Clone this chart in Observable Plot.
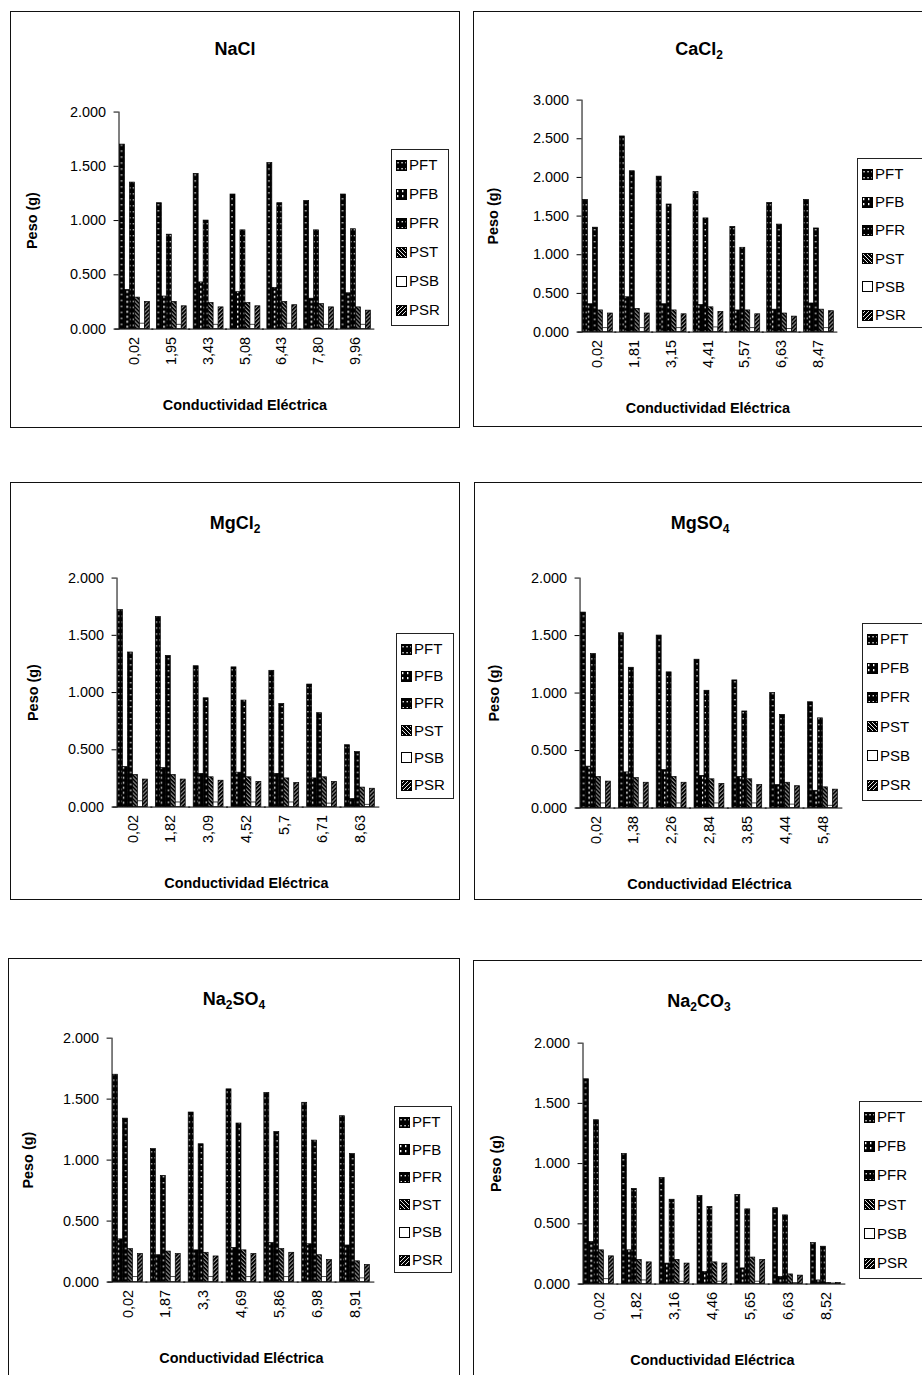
<!DOCTYPE html>
<html><head><meta charset="utf-8">
<script src="https://cdn.jsdelivr.net/npm/d3@7"></script>
<script src="https://cdn.jsdelivr.net/npm/@observablehq/plot@0.6"></script>
<style>
body{margin:0;background:#fff;}
#page{position:relative;width:922px;height:1375px;overflow:hidden;font-family:"Liberation Sans",Arial,sans-serif;color:#000;}
.panel{position:absolute;border:1.4px solid #111;box-sizing:border-box;background:#fff;}
.panel svg.plot{position:absolute;left:-1px;top:-1px;overflow:visible;}
.title{position:absolute;left:0;width:100%;text-align:center;font-weight:bold;font-size:18px;line-height:20px;}
.title sub{font-size:12px;vertical-align:-4px;line-height:0;}
.legend{position:absolute;border:1px solid #222;box-sizing:border-box;font-size:15px;background:#fff;}
.legend .item{position:absolute;left:4px;display:flex;align-items:center;height:18px;line-height:18px;}
.legend .item svg{margin-right:2px;}
[aria-label="y-axis label"], [aria-label="fx-axis label"]{font-weight:bold;}
</style>
</head><body>
<svg width="0" height="0" style="position:absolute">
<defs>
<pattern id="p-pft" width="4" height="6" patternUnits="userSpaceOnUse"><rect width="4" height="6" fill="#000"/><rect x="1.4" y="2" width="1.3" height="1.4" fill="#fff"/></pattern>
<pattern id="p-pfb" width="5" height="5" patternUnits="userSpaceOnUse"><rect width="5" height="5" fill="#000"/><rect x="1" y="1" width="1.4" height="2.2" fill="#fff"/></pattern>
<pattern id="p-pfr" width="4" height="6" patternUnits="userSpaceOnUse"><rect width="4" height="6" fill="#000"/><rect x="1.6" y="3" width="1.3" height="1.4" fill="#fff"/></pattern>
<pattern id="p-pst" width="4" height="4" patternUnits="userSpaceOnUse"><rect width="4" height="4" fill="#000"/><path d="M0,0L4,4" stroke="#fff" stroke-width="0.9"/></pattern>
<pattern id="p-psb" width="4" height="4" patternUnits="userSpaceOnUse"><rect width="4" height="4" fill="#fff"/></pattern>
<pattern id="p-psr" width="4" height="4" patternUnits="userSpaceOnUse"><rect width="4" height="4" fill="#000"/><path d="M0,4L4,0" stroke="#fff" stroke-width="0.9"/></pattern>
</defs>
</svg>
<div id="page"></div>
<script>
// ---- data ----
const series = ["PFT", "PFB", "PFR", "PST", "PSB", "PSR"];
const yTicks2 = [0, 0.5, 1, 1.5, 2];
const yTicks3 = [0, 0.5, 1, 1.5, 2, 2.5, 3];
const yLabel = "Peso (g)";
const xLabel = "Conductividad Eléctrica";

const naclCE = ["0,02", "1,95", "3,43", "5,08", "6,43", "7,80", "9,96"];
const naclPeso = [
  [1.70, 1.16, 1.43, 1.24, 1.53, 1.18, 1.24],
  [0.36, 0.30, 0.43, 0.34, 0.38, 0.28, 0.33],
  [1.35, 0.87, 1.00, 0.91, 1.16, 0.91, 0.92],
  [0.29, 0.25, 0.24, 0.24, 0.25, 0.23, 0.20],
  [0.05, 0.04, 0.04, 0.04, 0.05, 0.04, 0.04],
  [0.25, 0.21, 0.20, 0.21, 0.22, 0.20, 0.17]
];
const cacl2CE = ["0,02", "1,81", "3,15", "4,41", "5,57", "6,63", "8,47"];
const cacl2Peso = [
  [1.71, 2.53, 2.01, 1.81, 1.36, 1.67, 1.71],
  [0.36, 0.45, 0.36, 0.35, 0.28, 0.29, 0.37],
  [1.35, 2.08, 1.65, 1.47, 1.09, 1.39, 1.34],
  [0.28, 0.30, 0.28, 0.32, 0.28, 0.24, 0.29],
  [0.05, 0.05, 0.05, 0.06, 0.05, 0.04, 0.05],
  [0.24, 0.24, 0.23, 0.26, 0.23, 0.20, 0.27]
];
const mgcl2CE = ["0,02", "1,82", "3,09", "4,52", "5,7", "6,71", "8,63"];
const mgcl2Peso = [
  [1.72, 1.66, 1.23, 1.22, 1.19, 1.07, 0.54],
  [0.35, 0.34, 0.29, 0.30, 0.29, 0.25, 0.07],
  [1.35, 1.32, 0.95, 0.93, 0.90, 0.82, 0.48],
  [0.28, 0.28, 0.26, 0.26, 0.25, 0.26, 0.17],
  [0.05, 0.04, 0.04, 0.04, 0.04, 0.03, 0.02],
  [0.24, 0.24, 0.23, 0.22, 0.21, 0.22, 0.16]
];
const mgso4CE = ["0,02", "1,38", "2,26", "2,84", "3,85", "4,44", "5,48"];
const mgso4Peso = [
  [1.70, 1.52, 1.50, 1.29, 1.11, 1.00, 0.92],
  [0.36, 0.31, 0.33, 0.28, 0.27, 0.20, 0.15],
  [1.34, 1.22, 1.18, 1.02, 0.84, 0.81, 0.78],
  [0.27, 0.26, 0.27, 0.25, 0.25, 0.22, 0.18],
  [0.04, 0.04, 0.04, 0.04, 0.04, 0.03, 0.02],
  [0.23, 0.22, 0.22, 0.21, 0.20, 0.19, 0.16]
];
const na2so4CE = ["0,02", "1,87", "3,3", "4,69", "5,86", "6,98", "8,91"];
const na2so4Peso = [
  [1.70, 1.09, 1.39, 1.58, 1.55, 1.47, 1.36],
  [0.35, 0.22, 0.26, 0.28, 0.32, 0.31, 0.30],
  [1.34, 0.87, 1.13, 1.30, 1.23, 1.16, 1.05],
  [0.27, 0.25, 0.24, 0.26, 0.27, 0.22, 0.17],
  [0.04, 0.04, 0.04, 0.04, 0.04, 0.04, 0.03],
  [0.23, 0.23, 0.21, 0.23, 0.24, 0.18, 0.14]
];
const na2co3CE = ["0,02", "1,82", "3,16", "4,46", "5,65", "6,63", "8,52"];
const na2co3Peso = [
  [1.70, 1.08, 0.88, 0.73, 0.74, 0.63, 0.34],
  [0.35, 0.28, 0.17, 0.10, 0.13, 0.06, 0.03],
  [1.36, 0.79, 0.70, 0.64, 0.62, 0.57, 0.31],
  [0.28, 0.20, 0.20, 0.18, 0.22, 0.08, 0.01],
  [0.04, 0.03, 0.02, 0.02, 0.02, 0.01, 0.005],
  [0.23, 0.18, 0.17, 0.17, 0.20, 0.07, 0.01]
];

// ---- layout (styling only) ----
const panels = [
  {title: "NaCl", ce: naclCE, peso: naclPeso, ticks: yTicks2,
   box: {left: 10, top: 11, width: 450, height: 417}, m: {left: 103, right: 83, top: 101, bottom: 98},
   legend: {left: 380, top: 137, width: 58, height: 177, step: 29}, titleTop: 27},
  {title: "CaCl<sub>2</sub>", ce: cacl2CE, peso: cacl2Peso, ticks: yTicks3,
   box: {left: 473, top: 11, width: 452, height: 416}, m: {left: 105, right: 87, top: 89, bottom: 94},
   legend: {left: 383, top: 146, width: 80, height: 170, step: 28.2}, titleTop: 27},
  {title: "MgCl<sub>2</sub>", ce: mgcl2CE, peso: mgcl2Peso, ticks: yTicks2,
   box: {left: 10, top: 482, width: 450, height: 418}, m: {left: 100, right: 77, top: 96, bottom: 92},
   legend: {left: 385, top: 150, width: 58, height: 166, step: 27.2}, titleTop: 30},
  {title: "MgSO<sub>4</sub>", ce: mgso4CE, peso: mgso4Peso, ticks: yTicks2,
   box: {left: 474, top: 482, width: 452, height: 418}, m: {left: 102, right: 83, top: 96, bottom: 91},
   legend: {left: 387, top: 140, width: 80, height: 178, step: 29.2}, titleTop: 30},
  {title: "Na<sub>2</sub>SO<sub>4</sub>", ce: na2so4CE, peso: na2so4Peso, ticks: yTicks2,
   box: {left: 8, top: 958, width: 452, height: 430}, m: {left: 100, right: 85, top: 80, bottom: 105},
   legend: {left: 385, top: 147, width: 58, height: 167, step: 27.6}, titleTop: 30},
  {title: "Na<sub>2</sub>CO<sub>3</sub>", ce: na2co3CE, peso: na2co3Peso, ticks: yTicks2,
   box: {left: 473, top: 960, width: 452, height: 430}, m: {left: 103, right: 76, top: 83, bottom: 105},
   legend: {left: 385, top: 140, width: 80, height: 178, step: 29.2}, titleTop: 30}
];

const patternUrls = ["url(#p-pft)", "url(#p-pfb)", "url(#p-pfr)", "url(#p-pst)", "url(#p-psb)", "url(#p-psr)"];
const page = document.getElementById("page");

for (const cfg of panels) {
  const rows = [];
  cfg.ce.forEach((c, i) => series.forEach((s, j) => rows.push({ce: c, series: s, value: cfg.peso[j][i]})));
  const yMax = cfg.ticks[cfg.ticks.length - 1];

  const panel = document.createElement("div");
  panel.className = "panel";
  Object.assign(panel.style, {left: cfg.box.left + "px", top: cfg.box.top + "px", width: cfg.box.width + "px", height: cfg.box.height + "px"});
  page.appendChild(panel);

  const plot = Plot.plot({
    width: cfg.box.width, height: cfg.box.height,
    marginLeft: cfg.m.left, marginRight: cfg.m.right, marginTop: cfg.m.top, marginBottom: cfg.m.bottom,
    className: "plot",
    style: {fontFamily: "'Liberation Sans', Arial, sans-serif", fontSize: "14.5px", background: "transparent", color: "#000"},
    facet: {data: rows, x: "ce"},
    fx: {domain: cfg.ce, axis: "bottom", paddingInner: 0.17, paddingOuter: 0.09, tickSize: 0, tickRotate: -90, tickPadding: 8,
         label: xLabel, labelAnchor: "center", labelOffset: 81, labelArrow: false},
    x: {domain: series, axis: null, padding: 0},
    y: {domain: [0, yMax], ticks: cfg.ticks, tickFormat: d3.format(".3f"), tickSize: 5, tickPadding: 8, line: true,
        label: yLabel, labelAnchor: "center", labelOffset: cfg.m.left - 10, labelArrow: false},
    color: {domain: series, range: patternUrls},
    marks: [
      Plot.barY(rows, {x: "series", y: "value", fill: "series", stroke: "#000", strokeWidth: 0.7}),
      Plot.ruleY([0], {insetLeft: -4, insetRight: -4, stroke: "#000", strokeWidth: 1})
    ]
  });
  panel.appendChild(plot);

  const title = document.createElement("div");
  title.className = "title";
  title.style.top = cfg.titleTop + "px";
  title.innerHTML = cfg.title;
  panel.appendChild(title);

  const lg = document.createElement("div");
  lg.className = "legend";
  Object.assign(lg.style, {left: cfg.legend.left + "px", top: cfg.legend.top + "px", width: cfg.legend.width + "px", height: cfg.legend.height + "px"});
  series.forEach((s, j) => {
    const it = document.createElement("div");
    it.className = "item";
    it.style.top = (6 + j * cfg.legend.step) + "px";
    it.innerHTML = `<svg width="11" height="11"><rect x="0.5" y="0.5" width="10" height="10" fill="${patternUrls[j]}" stroke="#000" stroke-width="1"/></svg><span>${s}</span>`;
    lg.appendChild(it);
  });
  panel.appendChild(lg);
}
</script>
</body></html>
